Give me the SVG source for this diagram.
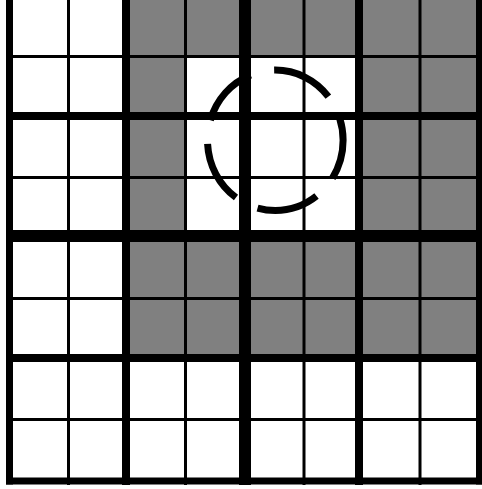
<svg xmlns="http://www.w3.org/2000/svg" width="482" height="489" viewBox="0 0 482 489">
<style>
.cell{fill:#808080}
.t{stroke:#000;stroke-width:3}
.T{stroke:#000;stroke-width:8}
.C{stroke:#000;stroke-width:12}
.B{stroke:#000;stroke-width:7}
.ring{fill:none;stroke:#000;stroke-width:7;stroke-dasharray:52 20;stroke-dashoffset:19}
</style>
<rect width="482" height="489" fill="#fff"/>
<g id="shaded">
<rect class="cell" x="126" y="-4" width="353" height="60.5"/>
<rect class="cell" x="126" y="56" width="59.5" height="180.5"/>
<rect class="cell" x="359" y="56" width="120" height="180.5"/>
<rect class="cell" x="126" y="236" width="353" height="122"/>
</g>
<g id="grid">
<line class="t" x1="68.5" y1="-8" x2="68.5" y2="485"/>
<line class="t" x1="185.5" y1="-8" x2="185.5" y2="485"/>
<line class="t" x1="304" y1="-8" x2="304" y2="485"/>
<line class="t" x1="420" y1="-8" x2="420" y2="485"/>
<line class="t" x1="6" y1="56.5" x2="483" y2="56.5"/>
<line class="t" x1="6" y1="177.5" x2="483" y2="177.5"/>
<line class="t" x1="6" y1="298.5" x2="483" y2="298.5"/>
<line class="t" x1="6" y1="419.5" x2="483" y2="419.5"/>
<line class="T" x1="126" y1="-8" x2="126" y2="485"/>
<line class="T" x1="359" y1="-8" x2="359" y2="485"/>
<line class="T" x1="6" y1="116" x2="483" y2="116"/>
<line class="T" x1="6" y1="358" x2="483" y2="358"/>
<line class="C" x1="245" y1="-8" x2="245" y2="485"/>
<line class="C" x1="6" y1="236" x2="483" y2="236"/>
<line class="B" x1="9.5" y1="-8" x2="9.5" y2="484.5"/>
<line class="B" x1="479.5" y1="-8" x2="479.5" y2="484.5"/>
<line class="B" x1="6" y1="481" x2="483" y2="481"/>
</g>
<g id="circle">
<ellipse class="ring" cx="275.3" cy="140.3" rx="67.8" ry="70.2" pathLength="360"/>
</g>
</svg>
